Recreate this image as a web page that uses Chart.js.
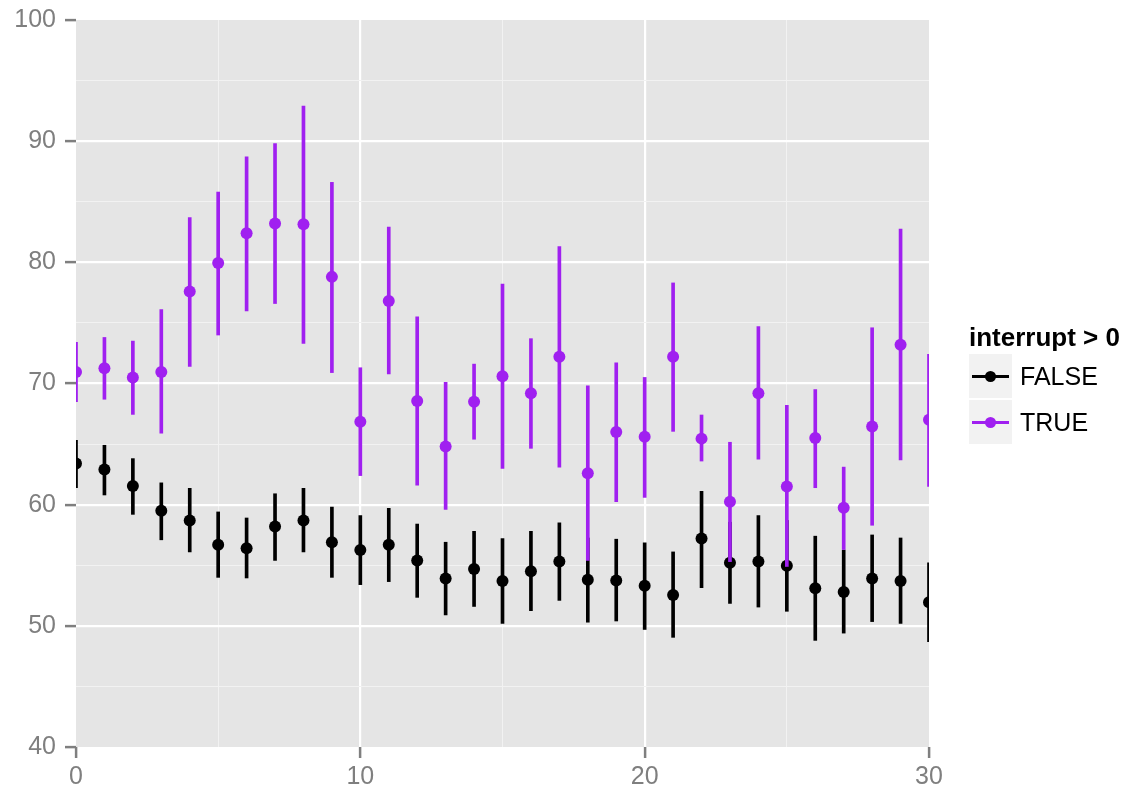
<!DOCTYPE html>
<html>
<head>
<meta charset="utf-8">
<script src="https://cdn.jsdelivr.net/npm/chart.js@4/dist/chart.umd.min.js"></script>
<style>
    html, body { margin: 0; padding: 0; background: #fff; }
    #wrap { position: relative; width: 1126px; height: 788px; }
    #legend {
        position: absolute; left: 969px; top: 325px;
        font-family: "Liberation Sans", Arial, sans-serif; font-size: 25px; color: #000;
    }
    #legend .title { font-weight: bold; font-size: 26px; line-height: 25px; margin-bottom: 4px; }
    #legend .item { display: flex; align-items: center; height: 44px; margin-bottom: 2px; line-height: 25px; }
    #legend .key { position: relative; width: 43px; height: 44px; background: #f2f2f2; margin-right: 8px; }
    #legend .key .line { position: absolute; left: 3px; right: 3px; top: 21px; height: 2.5px; }
    #legend .key .dot { position: absolute; left: 16px; top: 16.5px; width: 11px; height: 11px; border-radius: 50%; }
</style>
</head>
<body>
<div id="wrap">
    <canvas id="chart" width="1126" height="788"></canvas>
    <div id="legend"></div>
</div>
<script>
const xValues = [0, 1, 2, 3, 4, 5, 6, 7, 8, 9, 10, 11, 12, 13, 14, 15, 16, 17, 18, 19, 20,
    21, 22, 23, 24, 25, 26, 27, 28, 29, 30];

// interrupt > 0 == FALSE
const falseMean = [63.4, 62.9, 61.55, 59.5, 58.7, 56.7, 56.4, 58.2, 58.7, 56.9, 56.25, 56.7, 55.4, 53.9, 54.7,
    53.7, 54.5, 55.3, 53.8, 53.75, 53.3, 52.55, 57.2, 55.2, 55.3, 54.95, 53.1, 52.8, 53.9, 53.7, 51.95];
const falseLow = [61.4, 60.8, 59.2, 57.1, 56.1, 54.0, 53.95, 55.4, 56.1, 54.0, 53.4, 53.65, 52.35, 50.9, 51.6,
    50.2, 51.25, 52.1, 50.3, 50.4, 49.7, 49.05, 53.15, 51.85, 51.55, 51.2, 48.8, 49.4, 50.35, 50.2, 48.7];
const falseHigh = [65.3, 64.9, 63.8, 61.8, 61.35, 59.4, 58.9, 60.9, 61.35, 59.8, 59.1, 59.7, 58.4, 56.9, 57.8,
    57.2, 57.8, 58.5, 57.25, 57.15, 56.85, 56.1, 61.1, 58.55, 59.1, 58.7, 57.4, 56.25, 57.5, 57.25, 55.2];

// interrupt > 0 == TRUE
const trueMean = [70.95, 71.25, 70.5, 70.95, 77.6, 79.95, 82.4, 83.2, 83.15, 78.8, 66.85, 76.8, 68.55, 64.8, 68.5,
    70.6, 69.2, 72.2, 62.6, 66.0, 65.6, 72.2, 65.45, 60.25, 69.2, 61.5, 65.5, 59.75, 66.45, 73.2, 67.0];
const trueLow = [68.5, 68.7, 67.45, 65.9, 71.4, 74.0, 76.0, 76.6, 73.3, 70.9, 62.4, 70.8, 61.6, 59.6, 65.4,
    63.0, 64.65, 63.1, 55.4, 60.25, 60.6, 66.05, 63.6, 55.3, 63.75, 54.9, 61.4, 56.3, 58.3, 63.7, 61.5];
const trueHigh = [73.4, 73.8, 73.5, 76.1, 83.7, 85.8, 88.7, 89.8, 92.9, 86.6, 71.3, 82.9, 75.5, 70.1, 71.6,
    78.2, 73.7, 81.3, 69.8, 71.7, 70.5, 78.3, 67.4, 65.15, 74.7, 68.2, 69.5, 63.1, 74.6, 82.75, 72.4];

const seriesNames = ['FALSE', 'TRUE'];
const seriesColors = ['#000000', '#a020f0'];
const legendTitle = 'interrupt > 0';

const xMin = 0, xMax = 30, yMin = 40, yMax = 100;

const PointRange = (() => {
    const FONT = { family: '"Liberation Sans", Arial, sans-serif', size: 25 };
    const GREY = '#7f7f7f';

    const panelBg = {
        id: 'panelBg',
        beforeDraw(chart) {
            const { ctx, chartArea: a } = chart;
            ctx.save();
            ctx.fillStyle = '#e5e5e5';
            ctx.fillRect(a.left, a.top, a.right - a.left, a.bottom - a.top);
            ctx.restore();
        }
    };

    // major lines every 10, minor every 5, nothing on the panel edges
    function gridColor(min, max) {
        return ctx => {
            const v = ctx.tick.value;
            if (v === min || v === max) return 'rgba(0,0,0,0)';
            return v % 10 === 0 ? '#ffffff' : '#f2f2f2';
        };
    }
    const gridWidth = ctx => (ctx.tick.value % 10 === 0 ? 2.2 : 1);
    const tickColor = ctx => (ctx.tick.value % 10 === 0 ? GREY : 'rgba(0,0,0,0)');
    const label = v => (v % 10 === 0 ? String(v) : '');

    function rangeSet(name, color, low, high, order) {
        return {
            type: 'bar',
            label: name,
            data: xValues.map((x, i) => ({ x, y: [low[i], high[i]] })),
            backgroundColor: color,
            borderWidth: 0,
            barThickness: 3,
            grouped: false,
            clip: 0,
            order
        };
    }

    function pointSet(name, color, mean, order) {
        return {
            type: 'scatter',
            label: name,
            data: xValues.map((x, i) => ({ x, y: mean[i] })),
            backgroundColor: color,
            pointBackgroundColor: color,
            pointBorderWidth: 0,
            pointRadius: 6,
            clip: 0,
            order
        };
    }

    function renderChart() {
        new Chart(document.getElementById('chart'), {
            type: 'scatter',
            data: {
                datasets: [
                    rangeSet(seriesNames[0], seriesColors[0], falseLow, falseHigh, 4),
                    pointSet(seriesNames[0], seriesColors[0], falseMean, 3),
                    rangeSet(seriesNames[1], seriesColors[1], trueLow, trueHigh, 2),
                    pointSet(seriesNames[1], seriesColors[1], trueMean, 1)
                ]
            },
            options: {
                responsive: false,
                animation: false,
                devicePixelRatio: 1,
                layout: { padding: { left: 0, top: 20, right: 197, bottom: 0 } },
                plugins: { legend: { display: false }, tooltip: { enabled: false } },
                scales: {
                    x: {
                        type: 'linear', min: xMin, max: xMax, offset: false,
                        border: { display: false },
                        grid: { offset: false, color: gridColor(xMin, xMax), lineWidth: gridWidth,
                                tickColor, tickLength: 11, tickWidth: 2.5 },
                        ticks: { stepSize: 5, autoSkip: false, maxRotation: 0, padding: 4,
                                 color: GREY, font: FONT, callback: label },
                        afterFit(scale) { scale.height = 41; }
                    },
                    y: {
                        type: 'linear', min: yMin, max: yMax, beginAtZero: false,
                        border: { display: false },
                        grid: { color: gridColor(yMin, yMax), lineWidth: gridWidth,
                                tickColor, tickLength: 11, tickWidth: 2.5 },
                        ticks: { stepSize: 5, autoSkip: false, padding: 9,
                                 color: GREY, font: FONT, callback: label },
                        afterFit(scale) {
                            scale.width = 76;
                            // the layout padding already leaves room for the end labels
                            scale.paddingTop = 0;
                            scale.paddingBottom = 0;
                        }
                    }
                }
            },
            plugins: [panelBg]
        });
    }

    function renderLegend() {
        const box = document.getElementById('legend');
        let html = `<div class="title">${legendTitle.replace('>', '&gt;')}</div>`;
        seriesNames.forEach((name, i) => {
            html += `<div class="item"><div class="key">` +
                `<div class="line" style="background:${seriesColors[i]}"></div>` +
                `<div class="dot" style="background:${seriesColors[i]}"></div>` +
                `</div><span>${name}</span></div>`;
        });
        box.innerHTML = html;
    }

    function init() {
        renderChart();
        renderLegend();
    }

    return { init };
})();

PointRange.init();
</script>
</body>
</html>
